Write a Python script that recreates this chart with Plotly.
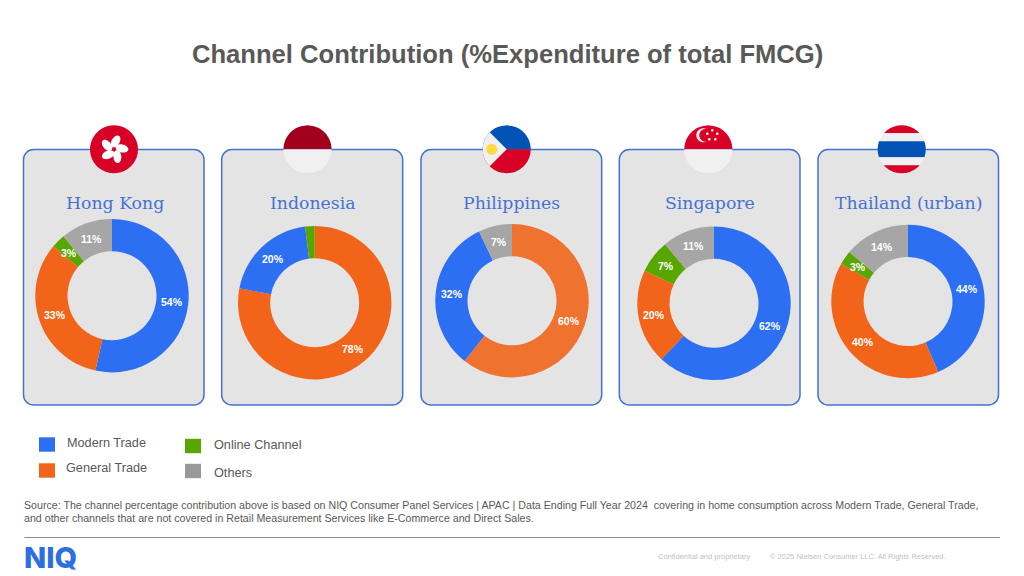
import numpy as np
import plotly.graph_objects as go

W, H = 1024, 576

# chart data, order is clockwise from 12 o'clock
hk_channels = ['Modern Trade', 'General Trade', 'Online Channel', 'Others']
hk_values = [54, 33, 3, 11]
id_channels = ['General Trade', 'Modern Trade', 'Online Channel']
id_values = [78, 20, 2]
id_labels = ['78%', '20%', '']
ph_channels = ['General Trade', 'Modern Trade', 'Others']
ph_values = [60, 32, 7]
sg_channels = ['Modern Trade', 'General Trade', 'Online Channel', 'Others']
sg_values = [62, 20, 7, 11]
th_channels = ['Modern Trade', 'General Trade', 'Online Channel', 'Others']
th_values = [44, 40, 3, 14]

legend_names = ['Modern Trade', 'General Trade', 'Online Channel', 'Others']
colors = {'Modern Trade': '#2D6FF3', 'General Trade': '#F26419',
          'Online Channel': '#58A700', 'Others': '#A6A6A6'}

title_text = 'Channel Contribution (%Expenditure of total FMCG)'
source_lines = ['Source: The channel percentage contribution above is based on NIQ Consumer Panel Services | APAC | Data Ending Full Year 2024  covering in home consumption across Modern Trade, General Trade,',
                'and other channels that are not covered in Retail Measurement Services like E-Commerce and Direct Sales.']

CARD_BG = '#E4E4E4'
CARD_LINE = '#4472D4'
GREY_TEXT = '#595959'
FLAG_RED = '#D80027'
FLAG_BLUE = '#0052B4'
FLAG_WHITE = '#F0F0F0'
R_DONUT = 76.7
HOLE = 0.58
R_FLAG = 24


def px(x):
    return x / W


def py(y):
    return 1 - y / H


def poly(points):
    return 'M' + 'L'.join(f'{px(x):.5f},{py(y):.5f}' for x, y in points) + 'Z'


def add_poly(shapes, points, fill):
    shapes.append(dict(type='path', xref='paper', yref='paper', path=poly(points),
                       fillcolor=fill, line=dict(width=0), layer='below'))


def ellipse(cx, cy, rx, ry, angle=0):
    t = np.linspace(0, 2 * np.pi, 40)
    c, s = np.cos(angle), np.sin(angle)
    return [(cx + rx * np.cos(a) * c - ry * np.sin(a) * s,
             cy + rx * np.cos(a) * s + ry * np.sin(a) * c) for a in t]


def band(cx, cy, r, y0, y1):
    # slice of a circle between two heights, relative to the centre
    ys = np.linspace(y0, y1, 30)
    right = [(cx + np.sqrt(max(r * r - y * y, 0)), cy + y) for y in ys]
    left = [(cx - np.sqrt(max(r * r - y * y, 0)), cy + y) for y in ys[::-1]]
    return right + left


def card(x0, x1, y0, y1, r=10):
    k = 0.45 * r
    path = (f'M{px(x0 + r)},{py(y0)}L{px(x1 - r)},{py(y0)}'
            f'C{px(x1 - k)},{py(y0)} {px(x1)},{py(y0 + k)} {px(x1)},{py(y0 + r)}'
            f'L{px(x1)},{py(y1 - r)}'
            f'C{px(x1)},{py(y1 - k)} {px(x1 - k)},{py(y1)} {px(x1 - r)},{py(y1)}'
            f'L{px(x0 + r)},{py(y1)}'
            f'C{px(x0 + k)},{py(y1)} {px(x0)},{py(y1 - k)} {px(x0)},{py(y1 - r)}'
            f'L{px(x0)},{py(y0 + r)}'
            f'C{px(x0)},{py(y0 + k)} {px(x0 + k)},{py(y0)} {px(x0 + r)},{py(y0)}Z')
    return dict(type='path', xref='paper', yref='paper', path=path, fillcolor=CARD_BG,
                line=dict(color=CARD_LINE, width=1.5), layer='below')


def flag_hk(shapes, cx, cy):
    add_poly(shapes, ellipse(cx, cy, R_FLAG, R_FLAG), FLAG_RED)
    for i in range(5):
        a = -np.pi / 2 + 0.2 + i * 2 * np.pi / 5
        add_poly(shapes, ellipse(cx + 8 * np.cos(a), cy + 8 * np.sin(a), 6.5, 4, a + 0.35), 'white')


def flag_id(shapes, cx, cy):
    add_poly(shapes, band(cx, cy, R_FLAG, -R_FLAG, 0), '#A2001D')
    add_poly(shapes, band(cx, cy, R_FLAG, 0, R_FLAG), FLAG_WHITE)


def flag_ph(shapes, cx, cy):
    add_poly(shapes, band(cx, cy, R_FLAG, -R_FLAG, 0), FLAG_BLUE)
    add_poly(shapes, band(cx, cy, R_FLAG, 0, R_FLAG), FLAG_RED)
    t = np.linspace(0.75 * np.pi, 1.25 * np.pi, 30)
    wedge = [(cx, cy)] + [(cx + R_FLAG * np.cos(a), cy + R_FLAG * np.sin(a)) for a in t]
    add_poly(shapes, wedge, FLAG_WHITE)
    add_poly(shapes, ellipse(cx - 15, cy, 5.5, 5.5), '#FFDA44')


def flag_sg(shapes, cx, cy):
    add_poly(shapes, band(cx, cy, R_FLAG, -R_FLAG, 0), FLAG_RED)
    add_poly(shapes, band(cx, cy, R_FLAG, 0, R_FLAG), FLAG_WHITE)
    add_poly(shapes, ellipse(cx - 5, cy - 14, 7, 7), FLAG_WHITE)
    add_poly(shapes, ellipse(cx - 2.5, cy - 14, 6.5, 6.5), FLAG_RED)
    for dx, dy in [(3, -19), (8, -15.5), (6, -10), (0, -10), (-2, -15.5)]:
        add_poly(shapes, ellipse(cx + dx + 1, cy + dy, 1.3, 1.3), FLAG_WHITE)


def flag_th(shapes, cx, cy):
    add_poly(shapes, band(cx, cy, R_FLAG, -R_FLAG, -16), FLAG_RED)
    add_poly(shapes, band(cx, cy, R_FLAG, -16, -8), FLAG_WHITE)
    add_poly(shapes, band(cx, cy, R_FLAG, -8, 8), FLAG_BLUE)
    add_poly(shapes, band(cx, cy, R_FLAG, 8, 16), FLAG_WHITE)
    add_poly(shapes, band(cx, cy, R_FLAG, 16, R_FLAG), FLAG_RED)


# card x0, x1, donut centre, flag centre, title centre
panels = [
    ('Hong Kong', hk_channels, hk_values, [f'{v}%' for v in hk_values], 23.5, 204, 112, 295.7, 114, 114.5, flag_hk),
    ('Indonesia', id_channels, id_values, id_labels, 221.7, 402.7, 314.7, 302.7, 307.5, 312.5, flag_id),
    ('Philippines', ph_channels, ph_values, [f'{v}%' for v in ph_values], 421, 601.7, 512, 300.7, 506.7, 511.5, flag_ph),
    ('Singapore', sg_channels, sg_values, [f'{v}%' for v in sg_values], 619.3, 800, 714, 303.3, 708.3, 709.5, flag_sg),
    ('Thailand (urban)', th_channels, th_values, [f'{v}%' for v in th_values], 818, 998.5, 908, 301.5, 901.7, 908.5, flag_th),
]

fig = go.Figure()
shapes = []
annotations = []


def add_text(x, y, text, size, color=GREY_TEXT, family='Liberation Sans', xanchor='left', weight=None):
    # annotations carry about 2px of padding on the anchored side
    if xanchor == 'left':
        x -= 2
    annotations.append(dict(xref='paper', yref='paper', x=px(x), y=py(y), text=text, showarrow=False,
                            xanchor=xanchor, yanchor='middle', align='left',
                            font=dict(size=size, color=color, family=family, weight=weight)))


for name, channels, values, labels, x0, x1, cx, cy, fx, tx, flag in panels:
    shapes.append(card(x0, x1, 149.5, 405))
    flag(shapes, fx, 149.3)
    add_text(tx, 203, name, 17.3, color='#4472D4', family='DejaVu Serif', xanchor='center')
    slice_colors = [colors[c] for c in channels]
    if name == 'Philippines':
        slice_colors[0] = '#F0722F'
    fig.add_trace(go.Pie(values=values, labels=channels, textinfo='none',
                         sort=False, direction='clockwise', hole=HOLE, showlegend=False,
                         marker=dict(colors=slice_colors, line=dict(width=0)),
                         domain=dict(x=[px(cx - R_DONUT), px(cx + R_DONUT)],
                                     y=[py(cy + R_DONUT), py(cy - R_DONUT)])))
    # plotly shrinks narrow inside labels, so the percentages sit mid ring at a fixed size
    mid = (np.cumsum(values) - np.array(values) / 2) / sum(values) * 2 * np.pi
    ring = R_DONUT * (1 + HOLE) / 2
    for label, a in zip(labels, mid):
        if label:
            add_text(cx + ring * np.sin(a), cy - ring * np.cos(a), f'<b>{label}</b>', 10.5,
                     color='white', xanchor='center')

# hand placed legend, the entries are not on a grid in the original
legend_spots = [(39, 444.5, 67, 442.5), (39, 470.5, 66, 467.5), (185, 446, 214, 445), (185, 471, 214, 473)]
for entry, (sx, sy, lx, ly) in zip(legend_names, legend_spots):
    shapes.append(dict(type='rect', xref='paper', yref='paper', x0=px(sx), x1=px(sx + 16),
                       y0=py(sy + 7.2), y1=py(sy - 7.2), layer='below', line=dict(width=0),
                       fillcolor='#999999' if entry == 'Others' else colors[entry]))
    add_text(lx, ly, entry, 12.7)

add_text(507, 54, f'<b>{title_text}</b>', 25.6, xanchor='center')
add_text(24, 504.7, source_lines[0], 10.65)
add_text(24, 517.7, source_lines[1], 10.65)
shapes.append(dict(type='line', xref='paper', yref='paper', x0=px(24.5), x1=px(1000), y0=py(537.5), y1=py(537.5),
                   line=dict(color='#8C8C8C', width=1), layer='below'))
add_text(24, 557, 'NIQ', 29, color='#2D6FE0', family='Inter', weight=800)
add_text(658, 556.5, 'Confidential and proprietary', 7.5, color='#BFBFBF')
add_text(770, 556.5, '© 2025 Nielsen Consumer LLC. All Rights Reserved.', 7.5, color='#BFBFBF')

fig.update_layout(width=W, height=H, margin=dict(l=0, r=0, t=0, b=0), paper_bgcolor='white',
                  shapes=shapes, annotations=annotations)
fig.write_html('out.html', post_script="document.body.style.margin='0';",
               config={'displayModeBar': False})
